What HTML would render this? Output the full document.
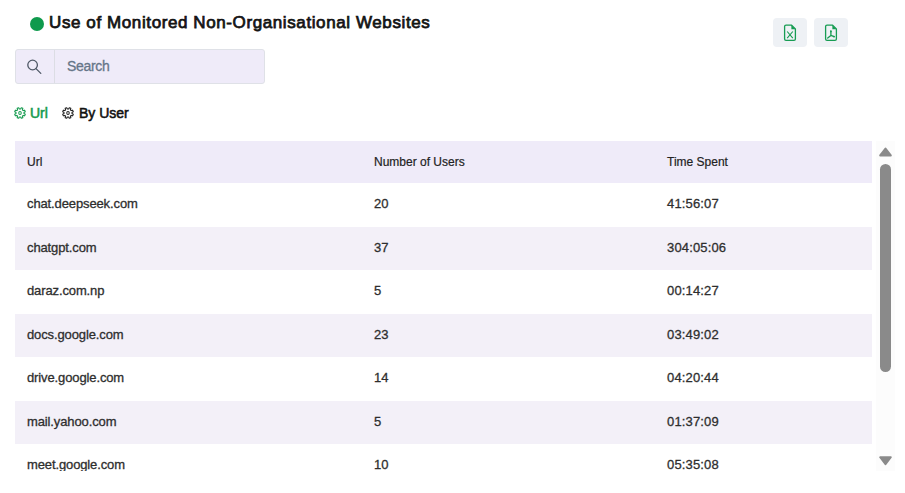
<!DOCTYPE html>
<html>
<head>
<meta charset="utf-8">
<style>
* { box-sizing: border-box; margin: 0; padding: 0; }
html, body { width: 905px; height: 493px; overflow: hidden; background: #fff; }
body { font-family: "Liberation Sans", sans-serif; color: #222; position: relative; }
.dot { position: absolute; left: 30px; top: 17px; width: 14px; height: 14px; border-radius: 50%; background: #0f9a4d; }
.title { position: absolute; left: 49px; top: 12.5px; font-size: 17px; letter-spacing: 0.6px; font-weight: normal; -webkit-text-stroke: 0.75px #141414; color: #141414; white-space: nowrap; }
.search { position: absolute; left: 15px; top: 49px; width: 250px; height: 35px; background: #efebf9; border: 1px solid #dfe1e7; border-radius: 3px; }
.search .ic { position: absolute; left: 0; top: 0; width: 39px; height: 33px; border-right: 1px solid #dcdde4; }
.search .ic svg { position: absolute; left: 10px; top: 9px; }
.search .ph { position: absolute; left: 51px; top: 8.2px; font-size: 14px; letter-spacing: -0.3px; color: #667588; -webkit-text-stroke: 0.3px #667588; }
.btn { position: absolute; top: 18px; width: 34px; height: 29px; background: #eef1f5; border-radius: 4px; }
.btn svg { position: absolute; left: 10px; top: 6px; }
.tab { position: absolute; top: 105px; font-size: 14px; white-space: nowrap; -webkit-text-stroke: 0.55px currentColor; }
.gear { position: absolute; top: 106.8px; }
.wrap { position: absolute; left: 15px; top: 141px; width: 857px; height: 330px; overflow: hidden; }
table { border-collapse: collapse; width: 857px; table-layout: fixed; font-size: 13px; }
th { background: #efebf9; text-align: left; font-weight: normal; font-size: 12px; height: 42px; padding-left: 12px; color: #222; -webkit-text-stroke: 0.2px #222; }
td { height: 43.5px; padding-left: 12px; padding-bottom: 2px; color: #2e2e2e; -webkit-text-stroke: 0.3px #2e2e2e; }
tr.s td { background: #f3f0f8; }
td:first-child { letter-spacing: -0.12px; }
td:nth-child(3) { letter-spacing: 0.15px; }
.sb { position: absolute; left: 876px; top: 141px; width: 19px; height: 330px; background: #fcfcfc; }
.thumb { position: absolute; left: 3.8px; top: 23px; width: 11.5px; height: 208px; border-radius: 6px; background: #8a8a8a; }
.sb svg { position: absolute; left: 0; }
</style>
</head>
<body>
<div class="dot"></div>
<div class="title">Use of Monitored Non-Organisational Websites</div>

<div class="btn" style="left:773px">
<svg width="14" height="18" viewBox="0 0 14 18"><path d="M3 1.2 H8.6 L12.4 5 V15 Q12.4 16.4 11 16.4 H3 Q1.6 16.4 1.6 15 V2.6 Q1.6 1.2 3 1.2 Z" fill="none" stroke="#179c53" stroke-width="1.3" stroke-linejoin="round"/><path d="M8.4 1.2 L12.4 5.2 L8.4 5.2Z" fill="#179c53"/><path d="M4.2 7.5 L9.8 14.2 M9.8 7.5 L4.2 14.2" stroke="#179c53" stroke-width="1.1"/></svg>
</div>
<div class="btn" style="left:814px">
<svg width="14" height="18" viewBox="0 0 14 18"><path d="M3 1.2 H8.6 L12.4 5 V15 Q12.4 16.4 11 16.4 H3 Q1.6 16.4 1.6 15 V2.6 Q1.6 1.2 3 1.2 Z" fill="none" stroke="#179c53" stroke-width="1.3" stroke-linejoin="round"/><path d="M8.4 1.2 L12.4 5.2 L8.4 5.2Z" fill="#179c53"/><path d="M6.9 7 V11.4 M6.9 11.4 L3.7 14 M6.9 11.4 L10.1 12.7" stroke="#179c53" stroke-width="1.3" stroke-linecap="round"/><circle cx="6.9" cy="7.4" r="0.9" fill="#179c53"/><circle cx="10" cy="12.6" r="0.85" fill="#179c53"/></svg>
</div>

<div class="search">
  <div class="ic"><svg width="16" height="16" viewBox="0 0 16 16"><circle cx="6.6" cy="6" r="4.8" fill="none" stroke="#4f5866" stroke-width="1.3"/><path d="M10 9.6 L14.8 14.4" stroke="#4f5866" stroke-width="1.3" stroke-linecap="round"/></svg></div>
  <div class="ph">Search</div>
</div>

<svg class="gear" style="left:14px" width="12" height="12" viewBox="0 0 12 12"><path d="M6.59 2.04 L7.27 0.70 L8.85 1.35 L8.38 2.78 L9.22 3.62 L10.65 3.15 L11.30 4.73 L9.96 5.41 L9.96 6.59 L11.30 7.27 L10.65 8.85 L9.22 8.38 L8.38 9.22 L8.85 10.65 L7.27 11.30 L6.59 9.96 L5.41 9.96 L4.73 11.30 L3.15 10.65 L3.62 9.22 L2.78 8.38 L1.35 8.85 L0.70 7.27 L2.04 6.59 L2.04 5.41 L0.70 4.73 L1.35 3.15 L2.78 3.62 L3.62 2.78 L3.15 1.35 L4.73 0.70 L5.41 2.04Z" fill="none" stroke="#159b4f" stroke-width="1.05" stroke-linejoin="round"/><ellipse cx="6" cy="6" rx="1.25" ry="1.5" fill="none" stroke="#159b4f" stroke-width="1.05"/></svg>
<span class="tab" style="left:30px;color:#159b4f">Url</span>
<svg class="gear" style="left:62.2px" width="12" height="12" viewBox="0 0 12 12"><path d="M6.59 2.04 L7.27 0.70 L8.85 1.35 L8.38 2.78 L9.22 3.62 L10.65 3.15 L11.30 4.73 L9.96 5.41 L9.96 6.59 L11.30 7.27 L10.65 8.85 L9.22 8.38 L8.38 9.22 L8.85 10.65 L7.27 11.30 L6.59 9.96 L5.41 9.96 L4.73 11.30 L3.15 10.65 L3.62 9.22 L2.78 8.38 L1.35 8.85 L0.70 7.27 L2.04 6.59 L2.04 5.41 L0.70 4.73 L1.35 3.15 L2.78 3.62 L3.62 2.78 L3.15 1.35 L4.73 0.70 L5.41 2.04Z" fill="none" stroke="#222" stroke-width="1.05" stroke-linejoin="round"/><ellipse cx="6" cy="6" rx="1.25" ry="1.5" fill="none" stroke="#222" stroke-width="1.05"/></svg>
<span class="tab" style="left:79px;color:#111">By User</span>

<div class="wrap">
<table>
<colgroup><col style="width:347px"><col style="width:293px"><col style="width:217px"></colgroup>
<thead><tr><th>Url</th><th>Number of Users</th><th>Time Spent</th></tr></thead>
<tbody>
<tr><td>chat.deepseek.com</td><td>20</td><td>41:56:07</td></tr>
<tr class="s"><td>chatgpt.com</td><td>37</td><td>304:05:06</td></tr>
<tr><td>daraz.com.np</td><td>5</td><td>00:14:27</td></tr>
<tr class="s"><td>docs.google.com</td><td>23</td><td>03:49:02</td></tr>
<tr><td>drive.google.com</td><td>14</td><td>04:20:44</td></tr>
<tr class="s"><td>mail.yahoo.com</td><td>5</td><td>01:37:09</td></tr>
<tr><td>meet.google.com</td><td>10</td><td>05:35:08</td></tr>
<tr class="s"><td>web.whatsapp.com</td><td>12</td><td>02:11:40</td></tr>
<tr><td>www.youtube.com</td><td>18</td><td>06:02:15</td></tr>
</tbody>
</table>
</div>

<div class="sb">
  <svg style="top:5px" width="19" height="12" viewBox="0 0 19 12"><path d="M9.5 2.6 L14.8 9.4 H4.2 Z" fill="#8a8a8a" stroke="#8a8a8a" stroke-width="2" stroke-linejoin="round"/></svg>
  <div class="thumb"></div>
  <svg style="top:314px" width="19" height="12" viewBox="0 0 19 12"><path d="M4.2 2.2 H14.8 L9.5 9.2 Z" fill="#8a8a8a" stroke="#8a8a8a" stroke-width="2" stroke-linejoin="round"/></svg>
</div>
</body>
</html>
